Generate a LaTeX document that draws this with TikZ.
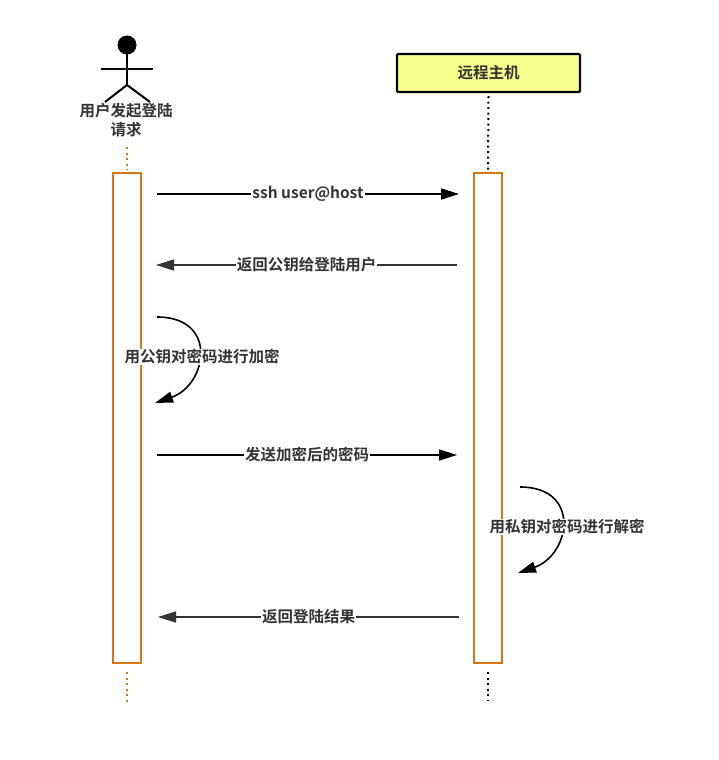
\documentclass[tikz,border=0pt]{standalone}
\usepackage{fontspec}
\setmainfont{Noto Sans CJK SC}[BoldFont={Noto Sans CJK SC Bold}]
\usetikzlibrary{arrows.meta,calc}
\definecolor{lifeorange}{RGB}{214,118,20}
\definecolor{hostyellow}{RGB}{246,255,140}
\definecolor{textgray}{RGB}{51,51,51}
\begin{document}
\begin{tikzpicture}[x=1pt,y=-1pt,
  lbl/.style={font=\fontsize{15.5}{19}\selectfont\bfseries, text=textgray, fill=white, inner sep=1pt},
  actbox/.style={draw=lifeorange, line width=2pt, fill=white, minimum width=28pt, minimum height=490pt, inner sep=0pt},
  msg/.style={line width=1.6pt, -{Triangle[length=18pt,width=11pt]}},
  msggray/.style={msg, draw=textgray, color=textgray},
  lifedot/.style={line width=2pt, dash pattern=on 2pt off 3.5pt},
  hostbox/.style={draw=black, line width=2.2pt, fill=hostyellow, rounded corners=1pt, minimum width=183pt, minimum height=38pt, font=\fontsize{15.5}{17}\selectfont\bfseries, text=textgray}]
\useasboundingbox (0,0) rectangle (719,760);
% actor
\fill (127,45) circle (9.5pt);
\draw[line width=2pt] (127,52) -- (127,85) coordinate (hip);
\draw[line width=2pt] (101,69) -- (153,69);
\draw[line width=2pt] (105,102) -- (hip) -- (150,102);
\node[lbl, align=center, fill=none] (actor) at (126,120) {用户发起登陆\\请求};
% host
\node[hostbox] (host) at (488.5,73) {远程主机};
% activation boxes
\node[actbox] (lact) at (127,418) {};
\node[actbox] (ract) at (488,418) {};
% lifelines
\coordinate (ltop) at (127,147);
\coordinate (lbot) at (127,702);
\coordinate (rbot) at (488,700);
\draw[lifedot, lifeorange] (ltop) -- ([yshift=2pt]lact.north);
\draw[lifedot, lifeorange] ([yshift=-8pt]lact.south) -- (lbot);
\draw[lifedot] ([yshift=-3pt]host.south) -- ([yshift=2pt]ract.north);
\draw[lifedot] ([yshift=-8pt]ract.south) -- (rbot);
% message rows
\coordinate (y1) at (0,194);
\coordinate (y2) at (0,265);
\coordinate (y4) at (0,455);
\coordinate (y6) at (0,617);
\draw[msg] ([xshift=15pt]lact.east |- y1) -- ([xshift=-14pt]ract.west |- y1) node[midway, lbl] {ssh user@host};
\draw[msggray] ([xshift=-16pt]ract.west |- y2) -- ([xshift=14pt]lact.east |- y2) node[midway, lbl] {返回公钥给登陆用户};
\draw[msg] ([xshift=15pt]lact.east |- y4) -- ([xshift=-16pt]ract.west |- y4) node[midway, lbl] {发送加密后的密码};
\draw[msggray] ([xshift=-14pt]ract.west |- y6) -- ([xshift=16pt]lact.east |- y6) node[midway, lbl] {返回登陆结果};
% self messages
\coordinate (s1a) at (157,317);
\coordinate (s1b) at (155,403);
\draw[msg] (s1a) .. controls +(62,0) and +(52,-18) .. (s1b);
\node[lbl] (self1) at (202,357) {用公钥对密码进行加密};
\coordinate (s2a) at (520,487);
\coordinate (s2b) at (518,573);
\draw[msg] (s2a) .. controls +(62,0) and +(52,-18) .. (s2b);
\node[lbl] (self2) at (567,527) {用私钥对密码进行解密};
\end{tikzpicture}
\end{document}
